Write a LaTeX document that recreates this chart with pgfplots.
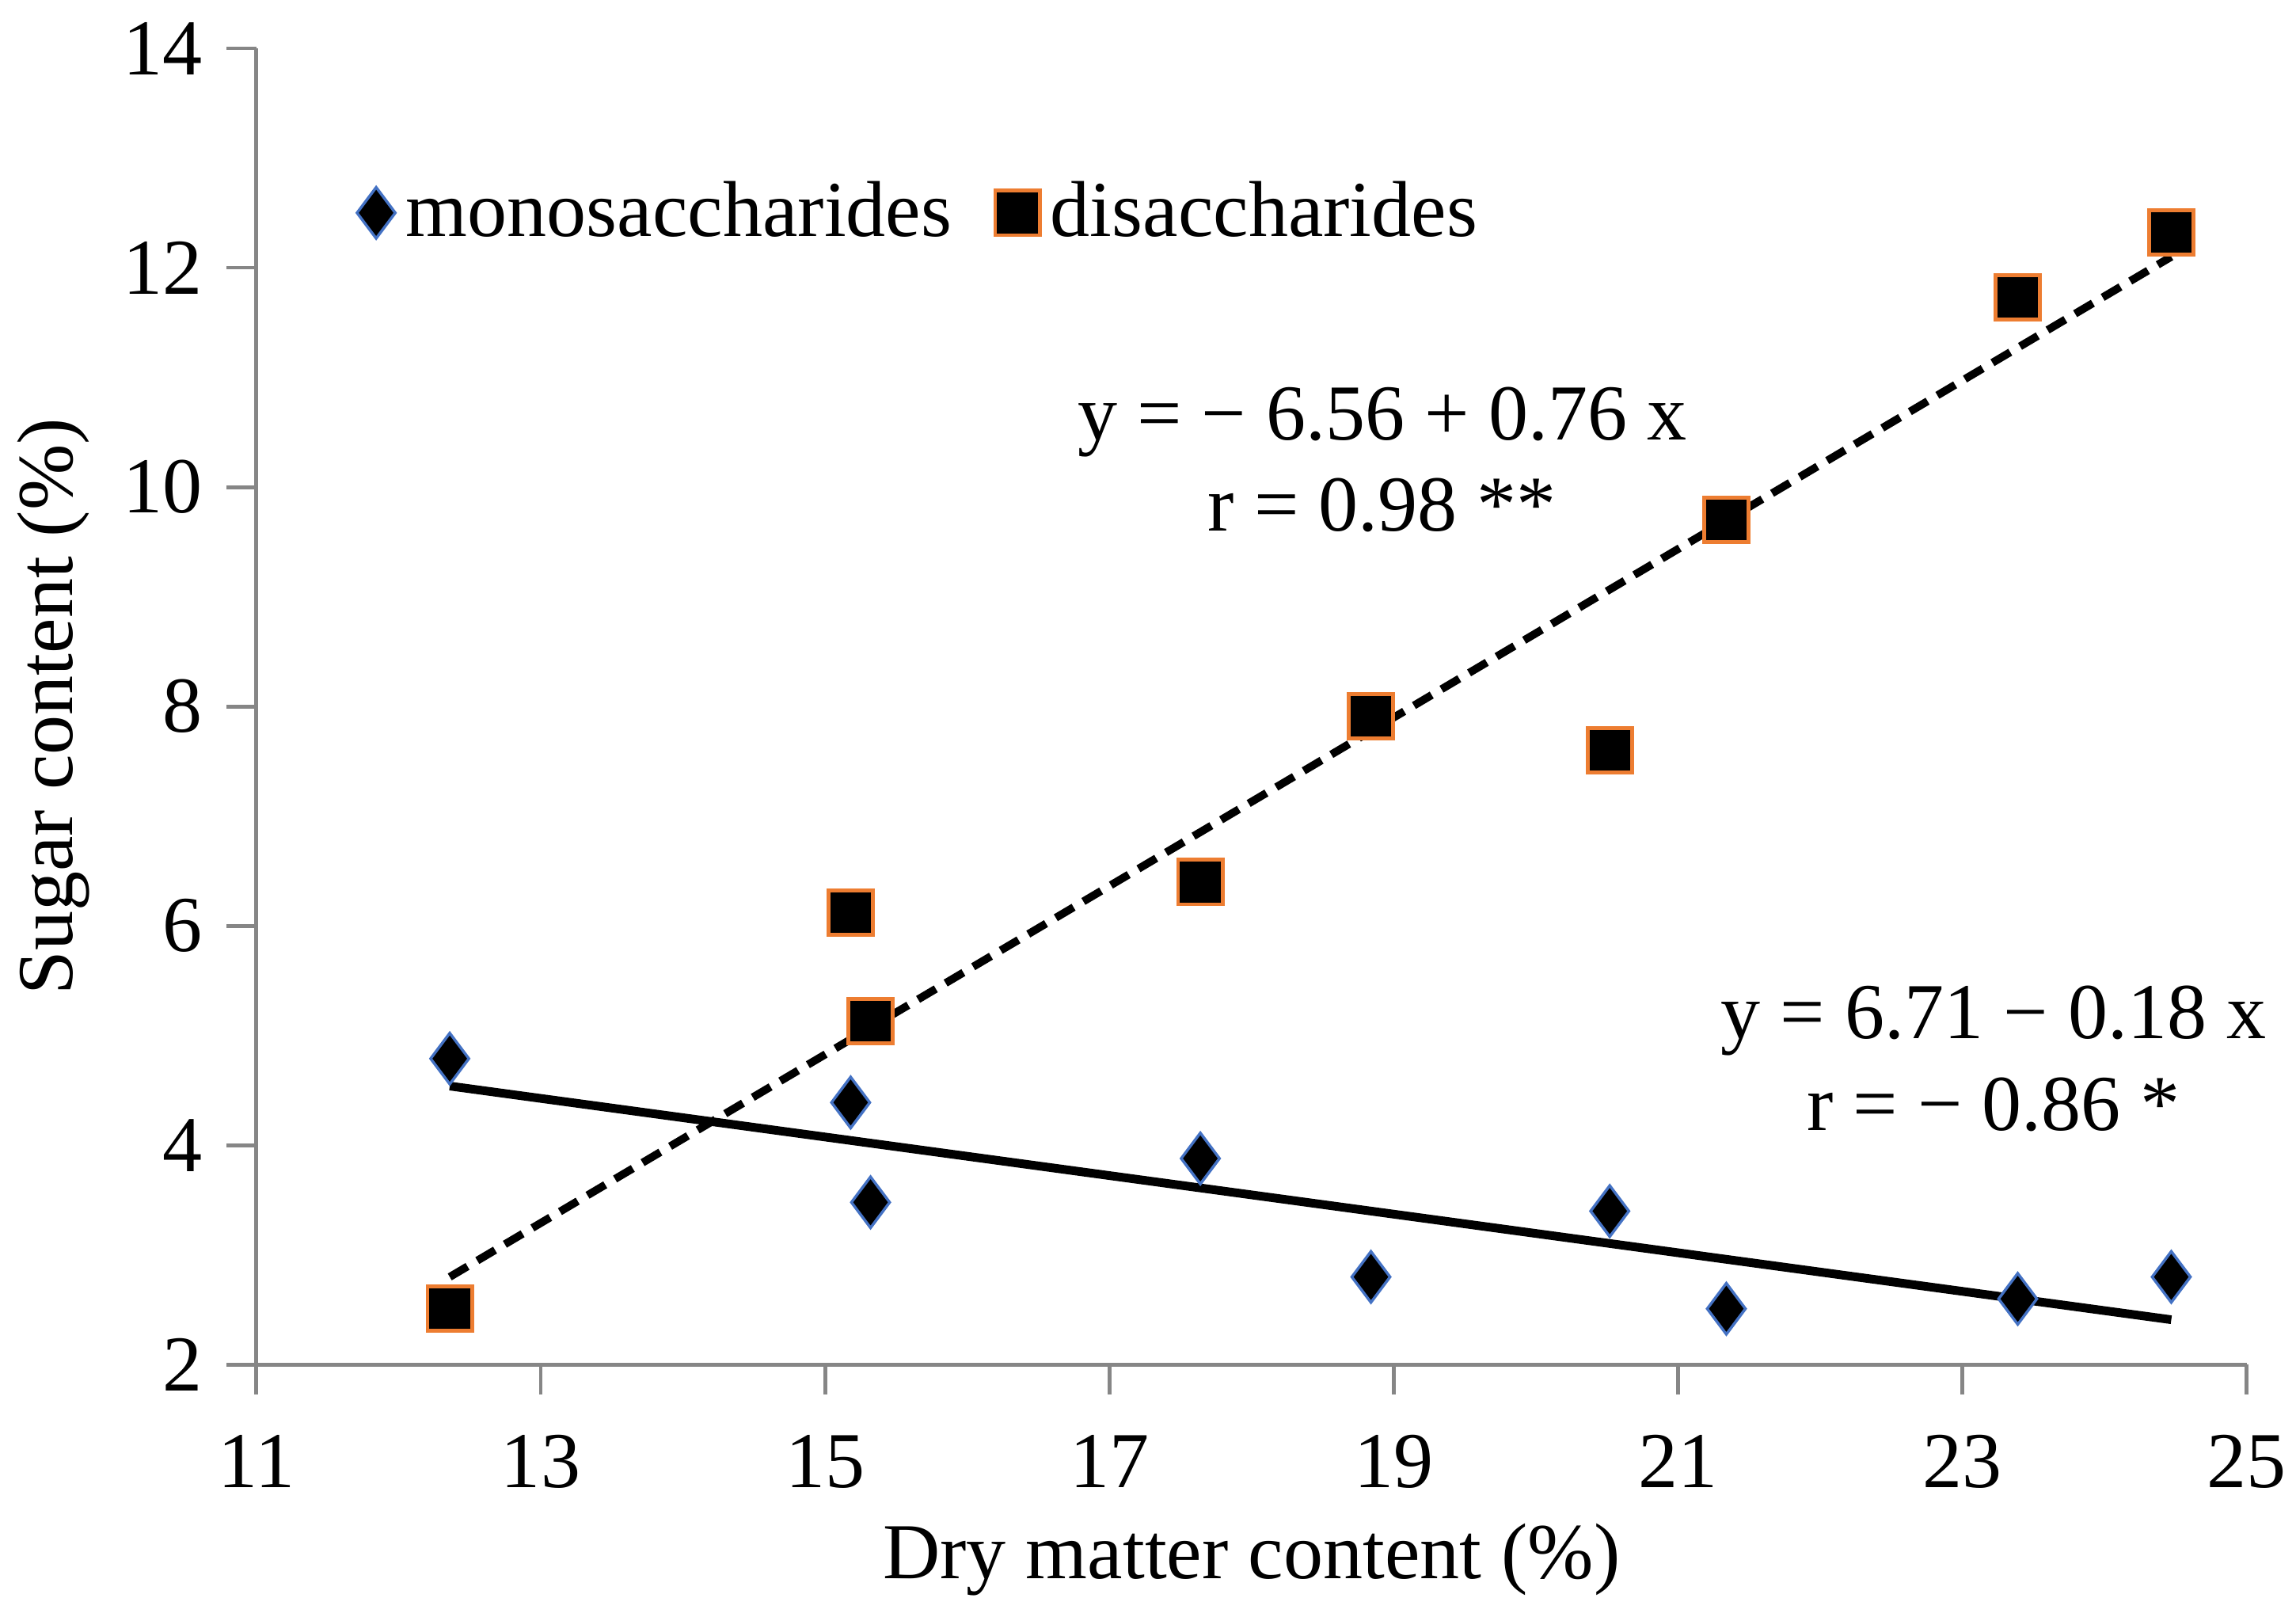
\documentclass[border=0pt]{standalone}
\usepackage{pgfplots}
\pgfplotsset{compat=1.18}
\usepackage{fontspec}
\setmainfont{Liberation Serif}
\definecolor{axgray}{RGB}{134,134,134}
\definecolor{edgeorange}{RGB}{237,125,49}
\definecolor{edgeblue}{RGB}{68,114,196}
\begin{document}
\begin{tikzpicture}
\path[use as bounding box] (-47.25pt,-46.4pt) rectangle (375.8pt,251.4pt);
\begin{axis}[
  at={(0,0)}, anchor=south west,
  scale only axis, width=366.7pt, height=242.5pt,
  xmin=11, xmax=25, ymin=2, ymax=14,
  xtick={11,13,...,25}, ytick={2,4,...,14},
  axis x line=bottom, axis y line=left,
  axis line style={-, axgray, line width=0.7pt},
  tick style={axgray, line width=0.7pt},
  tick align=outside, major tick length=5.5pt,
  /pgf/number format/assume math mode=true,
  every tick label/.append style={font=\fontsize{14.6}{17}\selectfont},
  yticklabel style={xshift=-1pt},
  xticklabel style={yshift=-4pt},
  label style={font=\fontsize{14.6}{17}\selectfont},
  xlabel={Dry matter content (\%)},
  ylabel={Sugar content (\%)},
  xlabel style={at={(axis description cs:0.5,-0.148)}, anchor=center},
  ylabel style={at={(axis description cs:-0.102,0.5)}, anchor=center},
  clip=false,
  legend style={draw=none, fill=none, at={(axis cs:11.7,12.5)}, anchor=west,
    font=\fontsize{14.6}{17}\selectfont, legend columns=2,
    /tikz/every even column/.append style={column sep=6pt},
    inner sep=0pt},
  legend cell align=left,
]
\addplot[only marks, mark=diamond*, mark size=4.7pt,
  mark options={fill=black, draw=edgeblue, line width=0.5pt}]
  coordinates {(12.36,4.79) (15.18,4.39) (15.32,3.48) (17.64,3.88) (18.84,2.80)
               (20.52,3.40) (21.34,2.51) (23.39,2.60) (24.47,2.80)};
\addlegendentry{monosaccharides}
\addplot[only marks, mark=square*, mark size=4.1pt,
  mark options={fill=black, draw=edgeorange, line width=0.7pt}]
  coordinates {(12.36,2.51) (15.18,6.12) (15.32,5.13) (17.64,6.40) (18.84,7.91)
               (20.52,7.60) (21.34,9.70) (23.39,11.73) (24.47,12.32)};
\addlegendentry{disaccharides}
\addplot[black, line width=1.45pt, dash pattern=on 3.8pt off 2.1pt, forget plot]
  coordinates {(12.36,2.80) (24.47,12.10)};
\addplot[black, line width=1.6pt, forget plot]
  coordinates {(12.36,4.54) (24.47,2.41)};
\node[align=center, font=\fontsize{14.6}{16.8}\selectfont] at (axis cs:18.92,10.25)
  {y = \textminus{} 6.56 + 0.76 x\\r = 0.98 **};
\node[align=center, font=\fontsize{14.6}{16.8}\selectfont] at (axis cs:23.22,4.79)
  {y = 6.71 \textminus{} 0.18 x\\r = \textminus{} 0.86 *};
\end{axis}
\end{tikzpicture}
\end{document}
